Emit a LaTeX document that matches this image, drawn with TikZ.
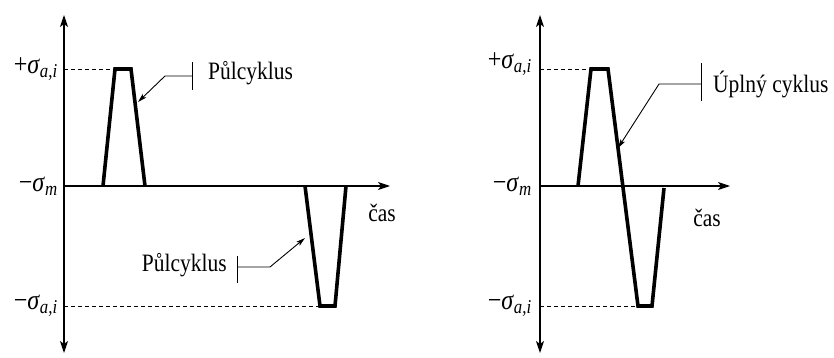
\documentclass[tikz,border=0pt]{standalone}
\usepackage{fontspec}
\setmainfont[FakeStretch=0.86]{Liberation Serif}
\usetikzlibrary{arrows.meta,positioning}

\tikzset{
  axis/.style={line width=1.3pt,-{Stealth[length=12pt,width=8pt,inset=3pt]}},
  load/.style={line width=3.6pt,line join=miter},
  level/.style={line width=0.9pt,dash pattern=on 4pt off 3pt},
  callout/.style={line width=0.9pt,-{Stealth[length=9pt,width=5pt,inset=2pt]}},
  bar/.style={line width=0.9pt},
  lbl/.style={font=\fontsize{25}{28}\selectfont,inner sep=0pt},
  sig/.style={font=\fontsize{28}{30}\selectfont,inner sep=0pt,anchor=east},
}
\newcommand{\sgm}[2]{#1\textit{σ}\textsubscript{\textit{#2}}}

\begin{document}
\begin{tikzpicture}[x=1pt,y=-1pt]
  \useasboundingbox (0,0) rectangle (834,358);

  % left: two half cycles
  \coordinate (o1) at (64,186);
  \draw[axis] (64,186) -- (64,15);
  \draw[axis] (64,186) -- (64,353);
  \draw[axis] (o1) -- (390,186);
  \draw[level] (o1 |- 0,69) -- (115,69);
  \draw[level] (o1 |- 0,306) -- (320,306);
  \draw[load] (103,186) -- (115,69) -- (131,69) -- (145,186);
  \draw[load] (305,186) -- (320,306) -- (335,306) -- (346,186);
  \node[sig] (pa1) at (58,69) {\sgm{+}{a,i}};
  \node[sig] (m1) at (58,186) {\sgm{−}{m}};
  \node[sig] (na1) at (58,306) {\sgm{−}{a,i}};
  \node[lbl] (t1) at (382,213) {čas};

  \node[lbl,anchor=west] (half1) at (208,73) {Půlcyklus};
  \coordinate (bar1) at (192,76);
  \coordinate (hit1) at (138,102);
  \draw[bar] (192,62) -- (192,90);
  \draw[callout] (bar1) -- (165,76) -- (hit1);

  \node[lbl,anchor=east] (half2) at (227,265) {Půlcyklus};
  \coordinate (bar2) at (237,267);
  \coordinate (hit2) at (305,238);
  \draw[bar] (237,256) -- (237,283);
  \draw[callout] (bar2) -- (270,267) -- (hit2);

  % right: one full cycle
  \coordinate (o2) at (540,186);
  \draw[axis] (540,186) -- (540,15);
  \draw[axis] (540,186) -- (540,353);
  \draw[axis] (o2) -- (730,186);
  \draw[level] (o2 |- 0,69) -- (591,69);
  \draw[level] (o2 |- 0,306) -- (638,306);
  \draw[load] (578,186) -- (591,69) -- (608,69) -- (638,306) -- (652,306) -- (664,188);
  \node[sig] (pa2) at (532,64) {\sgm{+}{a,i}};
  \node[sig] (m2) at (532,186) {\sgm{−}{m}};
  \node[sig] (na2) at (532,306) {\sgm{−}{a,i}};
  \node[lbl] (t2) at (707,218) {čas};

  \node[lbl,anchor=west] (full) at (713,84) {Úplný cyklus};
  \coordinate (bar3) at (701,84);
  \coordinate (hit3) at (618,148);
  \draw[bar] (701,63) -- (701,101);
  \draw[callout] (bar3) -- (659,84) -- (hit3);
\end{tikzpicture}
\end{document}
